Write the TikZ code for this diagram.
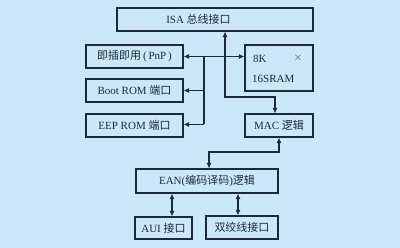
\documentclass[tikz,border=0pt]{standalone}
\usepackage{fontspec}
\setmainfont{Liberation Serif}
\newfontfamily\cjk{Noto Sans CJK SC}
\usetikzlibrary{arrows.meta}
\definecolor{bgc}{HTML}{CCE8F8}
\definecolor{lnc}{HTML}{1E2A36}
\begin{document}
\begin{tikzpicture}[x=1pt,y=-1pt,
  box/.style={draw=lnc,line width=1.1pt,fill=bgc,inner sep=0pt,minimum height=23pt,font=\fontsize{11}{13}\selectfont,text=lnc},
  lab/.style={inner sep=0pt,font=\fontsize{11}{13}\selectfont,text=lnc},
  conn/.style={draw=lnc,line width=1.1pt},
  tip/.style={-{Latex[length=5.5pt,width=5pt]}},
  tips/.style={{Latex[length=5.5pt,width=5pt]}-{Latex[length=5.5pt,width=5pt]}}]
\fill[bgc] (0,0) rectangle (400,248);
\useasboundingbox (0,0) rectangle (400,248);
\node[box,minimum width=196pt] (isa) at (215,19.5) {};
\node[lab] (isaT) at (198.5,19.5) {ISA {\cjk 总线接口}};
\node[box,minimum width=97pt] (pnp) at (134.5,56.5) {{\cjk 即插即用}\,(\,PnP\,)};
\node[box,minimum width=68pt,minimum height=46pt] (sram) at (279,68) {};
\node[lab,anchor=west] (sramA) at (253,59) {8K};
\node[lab,text=lnc!65,font=\fontsize{14}{14}\selectfont] (sramX) at (298,59) {×};
\node[lab,anchor=west] (sramB) at (252,79) {16SRAM};
\node[box,minimum width=97pt] (boot) at (134.5,90.5) {Boot ROM {\cjk 端口}};
\node[box,minimum width=97pt] (eep) at (134.5,125.5) {EEP ROM {\cjk 端口}};
\node[box,minimum width=68pt] (mac) at (279,125.5) {MAC {\cjk 逻辑}};
\node[box,minimum width=142pt,minimum height=24pt] (ean) at (207,181) {EAN({\cjk 编码译码}){\cjk 逻辑}};
\node[box,minimum width=57pt,minimum height=22pt] (aui) at (163.5,228) {AUI {\cjk 接口}};
\node[box,minimum width=72pt] (stp) at (242,227.5) {{\cjk 双绞线接口}};
% coordinates
\coordinate (v1) at (225,97);
\coordinate (v2) at (275,97);
\coordinate (bus) at (204,57);
\coordinate (busB) at (204,90.5);
\coordinate (busE) at (204,124.5);
\coordinate (m1) at (209,152);
\coordinate (a1) at (172,0);
\coordinate (s1) at (238,0);
% connectors
\draw[conn,tips] (isa.south -| v1) -- (v1) -- (v2) -- (mac.north -| v2);
\draw[conn,tips] (pnp.east) -- (sram.west |- pnp.east);
\draw[conn] (bus) -- (busE);
\draw[conn,tip] (busB) -- (boot.east);
\draw[conn,tip] (busE) -- (eep.east |- busE);
\draw[conn,tips] (mac.south) |- (m1) -- (ean.north -| m1);
\draw[conn,tips] (ean.south -| a1) -- (aui.north -| a1);
\draw[conn,tips] (ean.south -| s1) -- (stp.north -| s1);
\end{tikzpicture}
\end{document}
